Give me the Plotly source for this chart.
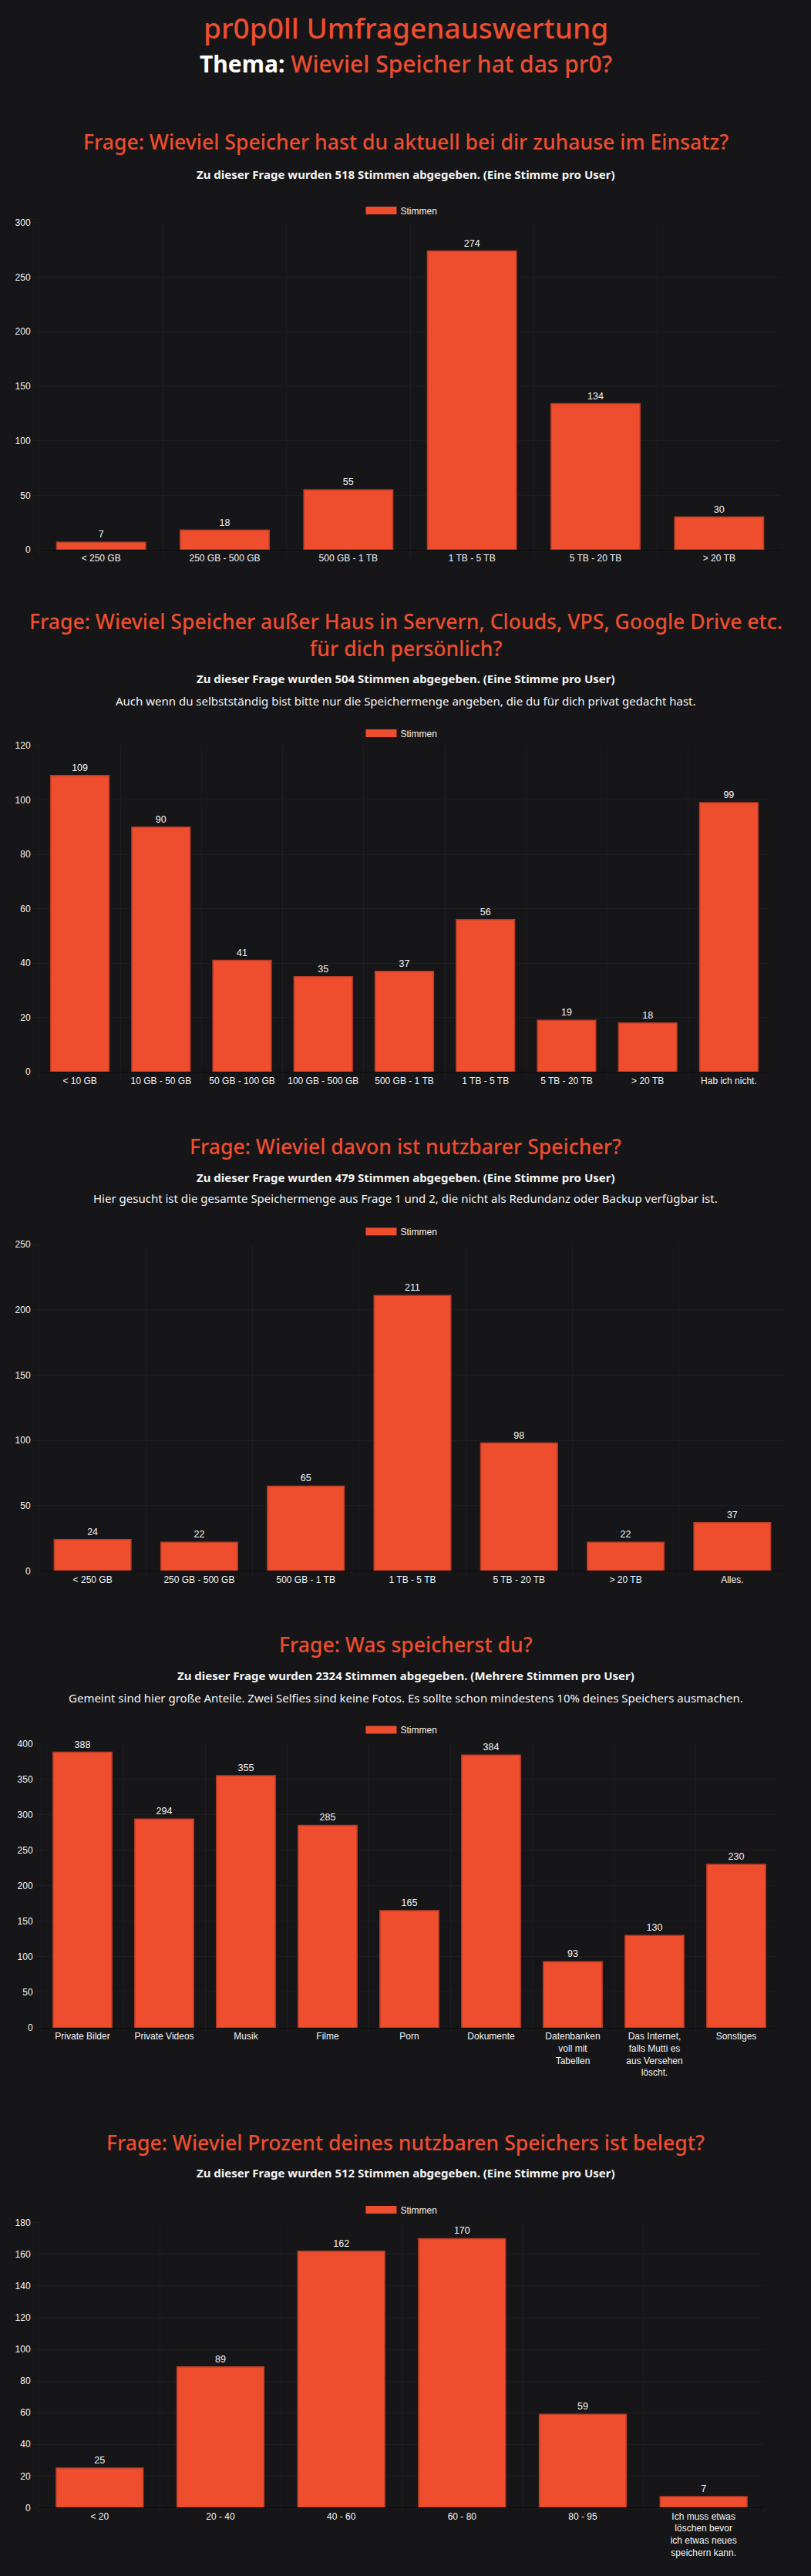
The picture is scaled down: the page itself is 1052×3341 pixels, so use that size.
import plotly.graph_objects as go

W = 1052
H = 3341

rot = "#ee4d2e"
hintergrund = "#161618"
weiss = "#f4f4f4"
gitter = "#1d1d20"

# Frage 1
f1_kat = ["< 250 GB", "250 GB - 500 GB", "500 GB - 1 TB", "1 TB - 5 TB", "5 TB - 20 TB", "> 20 TB"]
f1_stimmen = [7, 18, 55, 274, 134, 30]

# Frage 2
f2_kat = ["< 10 GB", "10 GB - 50 GB", "50 GB - 100 GB", "100 GB - 500 GB", "500 GB - 1 TB",
          "1 TB - 5 TB", "5 TB - 20 TB", "> 20 TB", "Hab ich nicht."]
f2_stimmen = [109, 90, 41, 35, 37, 56, 19, 18, 99]

# Frage 3
f3_kat = ["< 250 GB", "250 GB - 500 GB", "500 GB - 1 TB", "1 TB - 5 TB", "5 TB - 20 TB", "> 20 TB", "Alles."]
f3_stimmen = [24, 22, 65, 211, 98, 22, 37]

# Frage 4
f4_kat = ["Private Bilder", "Private Videos", "Musik", "Filme", "Porn", "Dokumente",
          "Datenbanken<br>voll mit<br>Tabellen",
          "Das Internet,<br>falls Mutti es<br>aus Versehen<br>löscht.",
          "Sonstiges"]
f4_stimmen = [388, 294, 355, 285, 165, 384, 93, 130, 230]

# Frage 5
f5_kat = ["< 20", "20 - 40", "40 - 60", "60 - 80", "80 - 95",
          "Ich muss etwas<br>löschen bevor<br>ich etwas neues<br>speichern kann."]
f5_stimmen = [25, 89, 162, 170, 59, 7]

fragen = [
    "Frage: Wieviel Speicher hast du aktuell bei dir zuhause im Einsatz?",
    "Frage: Wieviel Speicher außer Haus in Servern, Clouds, VPS, Google Drive etc.<br>für dich persönlich?",
    "Frage: Wieviel davon ist nutzbarer Speicher?",
    "Frage: Was speicherst du?",
    "Frage: Wieviel Prozent deines nutzbaren Speichers ist belegt?",
]
stimmen_info = [
    "Zu dieser Frage wurden 518 Stimmen abgegeben. (Eine Stimme pro User)",
    "Zu dieser Frage wurden 504 Stimmen abgegeben. (Eine Stimme pro User)",
    "Zu dieser Frage wurden 479 Stimmen abgegeben. (Eine Stimme pro User)",
    "Zu dieser Frage wurden 2324 Stimmen abgegeben. (Mehrere Stimmen pro User)",
    "Zu dieser Frage wurden 512 Stimmen abgegeben. (Eine Stimme pro User)",
]
hinweise = [
    None,
    "Auch wenn du selbstständig bist bitte nur die Speichermenge angeben, die du für dich privat gedacht hast.",
    "Hier gesucht ist die gesamte Speichermenge aus Frage 1 und 2, die nicht als Redundanz oder Backup verfügbar ist.",
    "Gemeint sind hier große Anteile. Zwei Selfies sind keine Fotos. Es sollte schon mindestens 10% deines Speichers ausmachen.",
    None,
]

daten = [(f1_kat, f1_stimmen), (f2_kat, f2_stimmen), (f3_kat, f3_stimmen),
         (f4_kat, f4_stimmen), (f5_kat, f5_stimmen)]

# Lage der Diagramme in Pixeln: x0, x1, oben, unten, ymax, dtick, titel, info, hinweis, legende
lage = [
    (51, 1013, 283, 709, 300, 50, 178, 220, None, 267),
    (51, 998, 964, 1389, 120, 20, 820, 877, 906, 948),
    (51, 1019, 1614, 2039, 250, 50, 1486, 1526, 1554, 1597),
    (54, 1008, 2264, 2634, 400, 50, 2135, 2175, 2204, 2246),
    (51, 991, 2888, 3259, 180, 20, 2784, 2823, None, 2871),
]


def py(p):
    return 1 - p / H


fig = go.Figure()
annos = []

annos.append(dict(text="pr0p0ll Umfragenauswertung", x=0.5, y=py(29), xref="paper", yref="paper",
                  showarrow=False, yanchor="middle",
                  font=dict(family="Noto Sans", size=37, color=rot, weight=500)))
annos.append(dict(text="<span style='color:#ffffff'><b>Thema:</b></span> Wieviel Speicher hat das pr0?",
                  x=0.5, y=py(76), xref="paper", yref="paper", showarrow=False, yanchor="middle",
                  font=dict(family="Noto Sans", size=30, color=rot, weight=500)))

for i, ((kat, werte), l) in enumerate(zip(daten, lage)):
    n = i + 1
    x0, x1, oben, unten, ymax, dtick, y_titel, y_info, y_hinweis, y_leg = l
    sfx = "" if n == 1 else str(n)

    fig.add_trace(go.Bar(
        x=kat, y=werte, name="Stimmen", showlegend=False,
        marker=dict(color=rot, line=dict(color="#b93c26", width=1.5)),
        texttemplate="%{y}", textposition="outside", cliponaxis=False,
        textfont=dict(family="Liberation Sans", size=12.5, color=weiss),
        xaxis="x" + sfx, yaxis="y" + sfx,
    ))
    # nur für die Legende
    fig.add_trace(go.Scatter(
        x=[None], y=[None], mode="lines", name="Stimmen",
        line=dict(color=rot, width=12),
        legend="legend" + sfx, xaxis="x" + sfx, yaxis="y" + sfx,
    ))

    fig.layout["xaxis" + sfx] = dict(
        domain=[x0 / W, x1 / W], anchor="y" + sfx, type="category",
        tickson="boundaries", showgrid=True, gridcolor=gitter,
        ticks="outside", ticklen=8, tickcolor=gitter,
        showline=True, linecolor="#0c0c0d", linewidth=1,
        tickfont=dict(family="Liberation Sans", size=12, color=weiss),
        fixedrange=True,
    )
    fig.layout["yaxis" + sfx] = dict(
        domain=[py(unten), py(oben)], anchor="x" + sfx,
        range=[0, ymax], dtick=dtick, showgrid=True, gridcolor=gitter,
        ticks="outside", ticklen=8, tickcolor=gitter,
        showline=True, linecolor=gitter, zeroline=False,
        tickfont=dict(family="Liberation Sans", size=12, color=weiss),
        fixedrange=True,
    )
    fig.layout["legend" + sfx] = dict(
        x=521 / W, y=py(y_leg), xanchor="center", yanchor="middle",
        orientation="h", itemwidth=40, bgcolor="rgba(0,0,0,0)",
        font=dict(family="Liberation Sans", size=12, color=weiss),
    )

    annos.append(dict(text=fragen[i], x=0.5, y=py(y_titel), xref="paper", yref="paper",
                      showarrow=False, yanchor="middle",
                      font=dict(family="Noto Sans", size=26.6, color=rot, weight=500)))
    annos.append(dict(text="<b>" + stimmen_info[i] + "</b>", x=0.5, y=py(y_info),
                      xref="paper", yref="paper", showarrow=False, yanchor="middle",
                      font=dict(family="Noto Sans", size=15, color=weiss)))
    if hinweise[i]:
        annos.append(dict(text=hinweise[i], x=0.5, y=py(y_hinweis), xref="paper", yref="paper",
                          showarrow=False, yanchor="middle",
                          font=dict(family="Noto Sans", size=15, color=weiss)))

fig.update_layout(
    width=W, height=H,
    margin=dict(l=0, r=0, t=0, b=0),
    paper_bgcolor=hintergrund, plot_bgcolor=hintergrund,
    bargap=0.28,
    annotations=annos,
)

# Seitenrand des Browsers weg, damit die Grafik genau ins Fenster passt
fig.write_html("out.html", config={"displayModeBar": False},
               post_script="document.body.style.margin='0';document.body.style.background='#161618';")
